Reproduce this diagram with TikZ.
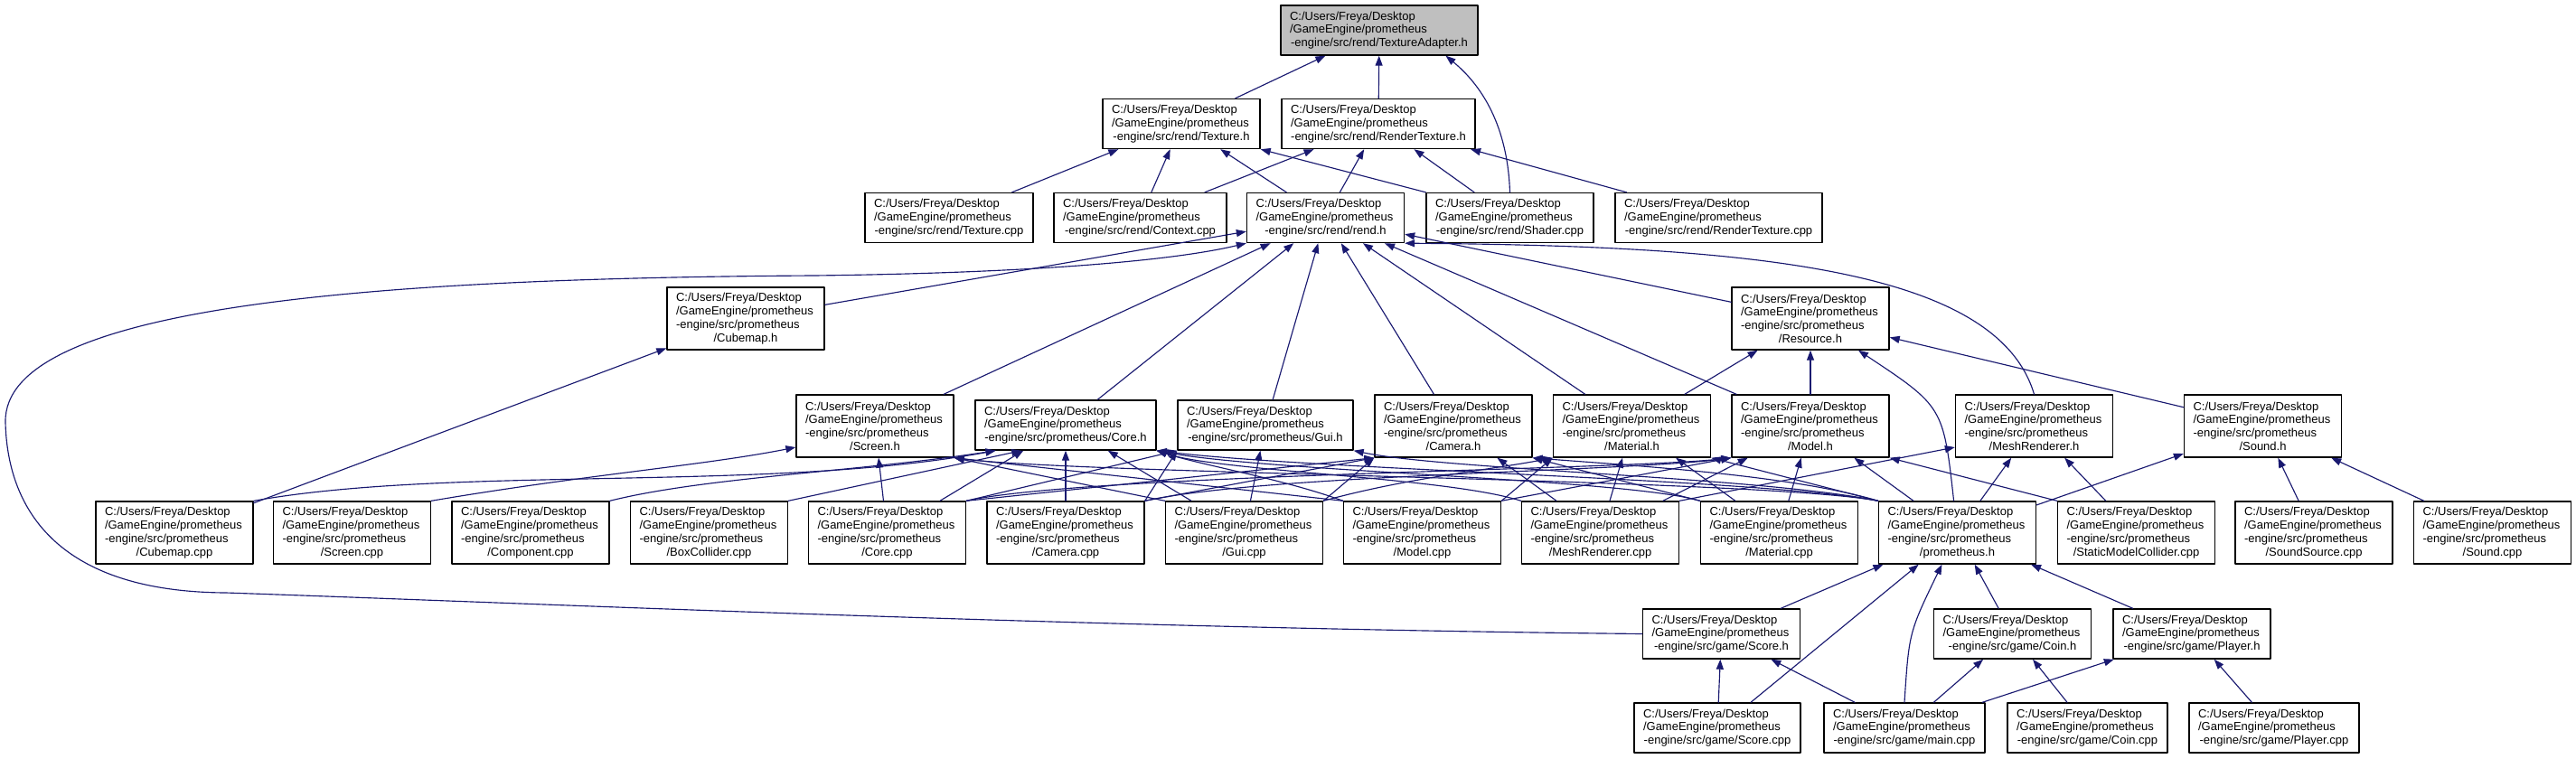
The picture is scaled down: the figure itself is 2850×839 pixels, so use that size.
\documentclass[tikz,border=0pt]{standalone}
\usepackage{fontspec}
\setmainfont{Liberation Sans}
\usepackage{tikz}
\usetikzlibrary{arrows.meta}
\definecolor{edgeblue}{HTML}{191970}
\definecolor{focusgray}{HTML}{BFBFBF}
\newcommand{\fpath}{C:/Users/Freya/Desktop\\/GameEngine/prometheus\\}
\newcommand{\lastln}[1]{\hbox to\hsize{\hfil#1\hfil}}
\tikzset{
    every picture/.style={line cap=round,line join=round},
    filebox/.style={draw=black,fill=white,line width=0.8pt,inner xsep=2mm,inner ysep=0pt,
      text width=#1,align=left,font=\fontsize{7.4}{8.4}\selectfont},
    filebox/.default=3.08cm,
    threeline/.style={minimum height=1.1cm},
    fourline/.style={minimum height=1.38cm},
    focus/.style={fill=focusgray},
    incarrow/.style={-{Triangle[length=2.2mm,width=1.6mm]},draw=edgeblue,line width=0.65pt}
}
\begin{document}
\begin{tikzpicture}[x=0.02cm,y=-0.02cm]
  \useasboundingbox (0,0) rectangle (2850,839);
  \node[filebox=3.96cm,threeline,focus] (texadapter) at (1526,33.5) {\fpath\lastln{-engine/src/rend/TextureAdapter.h}};
  \node[filebox,threeline] (texh) at (1307,137) {\fpath\lastln{-engine/src/rend/Texture.h}};
  \node[filebox=3.88cm,threeline] (rendertexh) at (1525,137) {\fpath\lastln{-engine/src/rend/RenderTexture.h}};
  \node[filebox=3.32cm,threeline] (texcpp) at (1050,241) {\fpath\lastln{-engine/src/rend/Texture.cpp}};
  \node[filebox=3.42cm,threeline] (contextcpp) at (1261.5,241) {\fpath\lastln{-engine/src/rend/Context.cpp}};
  \node[filebox,threeline] (rendh) at (1466.5,241) {\fpath\lastln{-engine/src/rend/rend.h}};
  \node[filebox=3.30cm,threeline] (shadercpp) at (1670.5,241) {\fpath\lastln{-engine/src/rend/Shader.cpp}};
  \node[filebox=4.18cm,threeline] (rendertexcpp) at (1901.5,241) {\fpath\lastln{-engine/src/rend/RenderTexture.cpp}};
  \node[filebox,fourline] (cubemaph) at (825,352.5) {\fpath-engine/src/prometheus\\\lastln{/Cubemap.h}};
  \node[filebox,fourline] (resourceh) at (2003,352.5) {\fpath-engine/src/prometheus\\\lastln{/Resource.h}};
  \node[filebox,fourline] (screenh) at (968,471.5) {\fpath-engine/src/prometheus\\\lastln{/Screen.h}};
  \node[filebox=3.60cm,threeline] (coreh) at (1179,470.5) {\fpath\lastln{-engine/src/prometheus/Core.h}};
  \node[filebox=3.48cm,threeline] (guih) at (1400,470.5) {\fpath\lastln{-engine/src/prometheus/Gui.h}};
  \node[filebox,fourline] (camerah) at (1608,471.5) {\fpath-engine/src/prometheus\\\lastln{/Camera.h}};
  \node[filebox,fourline] (materialh) at (1805.5,471.5) {\fpath-engine/src/prometheus\\\lastln{/Material.h}};
  \node[filebox,fourline] (modelh) at (2003,471.5) {\fpath-engine/src/prometheus\\\lastln{/Model.h}};
  \node[filebox,fourline] (meshrendererh) at (2250.5,471.5) {\fpath-engine/src/prometheus\\\lastln{/MeshRenderer.h}};
  \node[filebox,fourline] (soundh) at (2503.5,471.5) {\fpath-engine/src/prometheus\\\lastln{/Sound.h}};
  \node[filebox,fourline] (cubemapcpp) at (193,589.5) {\fpath-engine/src/prometheus\\\lastln{/Cubemap.cpp}};
  \node[filebox,fourline] (screencpp) at (389.5,589.5) {\fpath-engine/src/prometheus\\\lastln{/Screen.cpp}};
  \node[filebox,fourline] (componentcpp) at (587,589.5) {\fpath-engine/src/prometheus\\\lastln{/Component.cpp}};
  \node[filebox,fourline] (boxcollidercpp) at (784.5,589.5) {\fpath-engine/src/prometheus\\\lastln{/BoxCollider.cpp}};
  \node[filebox,fourline] (corecpp) at (981.5,589.5) {\fpath-engine/src/prometheus\\\lastln{/Core.cpp}};
  \node[filebox,fourline] (cameracpp) at (1179,589.5) {\fpath-engine/src/prometheus\\\lastln{/Camera.cpp}};
  \node[filebox,fourline] (guicpp) at (1376.5,589.5) {\fpath-engine/src/prometheus\\\lastln{/Gui.cpp}};
  \node[filebox,fourline] (modelcpp) at (1573.5,589.5) {\fpath-engine/src/prometheus\\\lastln{/Model.cpp}};
  \node[filebox,fourline] (meshrenderercpp) at (1770.5,589.5) {\fpath-engine/src/prometheus\\\lastln{/MeshRenderer.cpp}};
  \node[filebox,fourline] (materialcpp) at (1968.5,589.5) {\fpath-engine/src/prometheus\\\lastln{/Material.cpp}};
  \node[filebox,fourline] (prometheush) at (2165.5,589.5) {\fpath-engine/src/prometheus\\\lastln{/prometheus.h}};
  \node[filebox,fourline] (staticmodelcollidercpp) at (2363.5,589.5) {\fpath-engine/src/prometheus\\\lastln{/StaticModelCollider.cpp}};
  \node[filebox,fourline] (soundsourcecpp) at (2560,589.5) {\fpath-engine/src/prometheus\\\lastln{/SoundSource.cpp}};
  \node[filebox,fourline] (soundcpp) at (2757.5,589.5) {\fpath-engine/src/prometheus\\\lastln{/Sound.cpp}};
  \node[filebox,threeline] (scoreh) at (1904.5,701.5) {\fpath\lastln{-engine/src/game/Score.h}};
  \node[filebox,threeline] (coinh) at (2226.5,701.5) {\fpath\lastln{-engine/src/game/Coin.h}};
  \node[filebox,threeline] (playerh) at (2425,701.5) {\fpath\lastln{-engine/src/game/Player.h}};
  \node[filebox=3.28cm,threeline] (scorecpp) at (1900,805.5) {\fpath\lastln{-engine/src/game/Score.cpp}};
  \node[filebox=3.16cm,threeline] (maincpp) at (2107,805.5) {\fpath\lastln{-engine/src/game/main.cpp}};
  \node[filebox=3.14cm,threeline] (coincpp) at (2309.5,805.5) {\fpath\lastln{-engine/src/game/Coin.cpp}};
  \node[filebox=3.36cm,threeline] (playercpp) at (2516,805.5) {\fpath\lastln{-engine/src/game/Player.cpp}};
  \draw[incarrow] (texh) -- (texadapter);
  \draw[incarrow] (rendertexh) -- (texadapter);
  \draw[incarrow] (shadercpp.north) .. controls (1668,140) and (1640,95) .. (texadapter.-21);
  \draw[incarrow] (texcpp) -- (texh);
  \draw[incarrow] (contextcpp) -- (texh);
  \draw[incarrow] (rendh) -- (texh);
  \draw[incarrow] (shadercpp.north west) -- (texh.south east);
  \draw[incarrow] (contextcpp) -- (rendertexh);
  \draw[incarrow] (rendh) -- (rendertexh);
  \draw[incarrow] (shadercpp) -- (rendertexh);
  \draw[incarrow] (rendertexcpp) -- (rendertexh);
  \draw[incarrow] (scoreh.west) .. controls (1200,695) and (600,668) .. (250,656)
    .. controls (60,655) and (8,560) .. (6,467) .. controls (4,340) and (400,308) .. (900,305)
    .. controls (1150,302) and (1300,288) .. (rendh.south west);
  \draw[incarrow] (cubemaph) -- (rendh);
  \draw[incarrow] (screenh) -- (rendh);
  \draw[incarrow] (coreh) -- (rendh);
  \draw[incarrow] (guih) -- (rendh);
  \draw[incarrow] (camerah) -- (rendh);
  \draw[incarrow] (materialh) -- (rendh);
  \draw[incarrow] (modelh) -- (rendh);
  \draw[incarrow] (resourceh) -- (rendh);
  \draw[incarrow] (meshrendererh.north) .. controls (2210,300) and (1950,272) .. (rendh.south east);
  \draw[incarrow] (materialh) -- (resourceh);
  \draw[incarrow] (modelh) -- (resourceh);
  \draw[incarrow] (prometheush) .. controls (2150,450) .. (resourceh);
  \draw[incarrow] (soundh) -- (resourceh);
  \draw[incarrow] (cubemapcpp) -- (cubemaph);
  \draw[incarrow] (screencpp.north east) .. controls (650,525) and (780,515) .. (screenh.195);
  \draw[incarrow] (corecpp) -- (screenh);
  \draw[incarrow] (guicpp.north west) -- (screenh.south east);
  \draw[incarrow] (modelcpp.north west) -- (screenh.south east);
  \draw[incarrow] (prometheush.north west) .. controls (1950,530) and (1200,525) .. (screenh.south east);
  \draw[incarrow] (cubemapcpp.north east) .. controls (500,515) and (850,545) .. (coreh.-160);
  \draw[incarrow] (componentcpp.north east) .. controls (780,528) and (950,522) .. (coreh.-160);
  \draw[incarrow] (boxcollidercpp.north east) -- (coreh.-150);
  \draw[incarrow] (corecpp) -- (coreh);
  \draw[incarrow] (cameracpp) -- (coreh);
  \draw[incarrow] (guicpp) -- (coreh);
  \draw[incarrow] (modelcpp.north west) .. controls (1420,530) and (1330,515) .. (coreh.south east);
  \draw[incarrow] (meshrenderercpp.north west) .. controls (1600,528) and (1350,522) .. (coreh.south east);
  \draw[incarrow] (materialcpp.north west) .. controls (1800,530) and (1400,522) .. (coreh.south east);
  \draw[incarrow] (prometheush.north west) .. controls (1950,530) and (1450,520) .. (coreh.south east);
  \draw[incarrow] (corecpp.north east) -- (guih.south west);
  \draw[incarrow] (cameracpp.north east) -- (guih.south west);
  \draw[incarrow] (guicpp) -- (guih);
  \draw[incarrow] (prometheush.north west) .. controls (1950,528) and (1600,520) .. (guih.south east);
  \draw[incarrow] (corecpp.north east) -- (camerah.south west);
  \draw[incarrow] (cameracpp.north east) -- (camerah.south west);
  \draw[incarrow] (guicpp.north east) -- (camerah.south west);
  \draw[incarrow] (meshrenderercpp) -- (camerah);
  \draw[incarrow] (materialcpp.north west) -- (camerah.south east);
  \draw[incarrow] (prometheush.north west) .. controls (1980,525) and (1800,515) .. (camerah.south east);
  \draw[incarrow] (guicpp.north east) .. controls (1560,528) and (1650,520) .. (materialh.south west);
  \draw[incarrow] (modelcpp.north east) -- (materialh.south west);
  \draw[incarrow] (meshrenderercpp) -- (materialh);
  \draw[incarrow] (materialcpp) -- (materialh);
  \draw[incarrow] (prometheush.north west) -- (materialh.south east);
  \draw[incarrow] (corecpp.north east) .. controls (1200,525) and (1800,520) .. (modelh.south west);
  \draw[incarrow] (cameracpp.north east) .. controls (1400,525) and (1800,522) .. (modelh.south west);
  \draw[incarrow] (modelcpp.north east) -- (modelh.south west);
  \draw[incarrow] (meshrenderercpp) -- (modelh);
  \draw[incarrow] (materialcpp) -- (modelh);
  \draw[incarrow] (prometheush) -- (modelh);
  \draw[incarrow] (staticmodelcollidercpp.north west) -- (modelh.south east);
  \draw[incarrow] (meshrenderercpp.north east) -- (meshrendererh.195);
  \draw[incarrow] (prometheush) -- (meshrendererh);
  \draw[incarrow] (staticmodelcollidercpp) -- (meshrendererh);
  \draw[incarrow] (prometheush) -- (soundh);
  \draw[incarrow] (soundsourcecpp) -- (soundh);
  \draw[incarrow] (soundcpp) -- (soundh);
  \draw[incarrow] (scoreh) -- (prometheush);
  \draw[incarrow] ([xshift=0.74cm]scorecpp.north) -- (prometheush);
  \draw[incarrow] (maincpp.north) .. controls (2112,700) .. (prometheush);
  \draw[incarrow] (coinh) -- (prometheush);
  \draw[incarrow] (playerh) -- (prometheush);
  \draw[incarrow] (scorecpp) -- (scoreh);
  \draw[incarrow] (maincpp) -- (scoreh);
  \draw[incarrow] (maincpp) -- (coinh);
  \draw[incarrow] (coincpp) -- (coinh);
  \draw[incarrow] (maincpp) -- (playerh);
  \draw[incarrow] (playercpp) -- (playerh);
\end{tikzpicture}
\end{document}
